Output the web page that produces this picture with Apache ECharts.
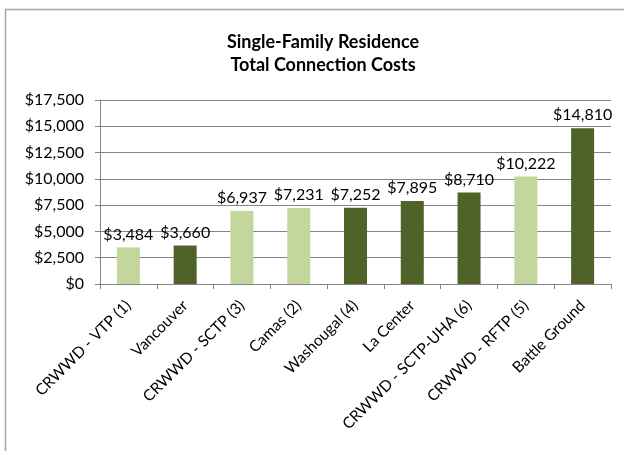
<!DOCTYPE html>
<html>
<head>
<meta charset="utf-8">
<script src="https://cdn.jsdelivr.net/npm/echarts@6/dist/echarts.min.js"></script>
<style>
  html, body { margin: 0; padding: 0; background: #fff; }
  #chart { width: 624px; height: 451px; }
</style>
</head>
<body>
<div id="chart"></div>
<script>
// categories and values
var categories = ['CRWWD - VTP (1)', 'Vancouver', 'CRWWD - SCTP (3)', 'Camas (2)', 'Washougal (4)',
                  'La Center', 'CRWWD - SCTP-UHA (6)', 'CRWWD - RFTP (5)', 'Battle Ground'];
var costs = [3484, 3660, 6937, 7231, 7252, 7895, 8710, 10222, 14810];
var shade = ['light', 'dark', 'light', 'light', 'dark', 'dark', 'dark', 'light', 'dark'];

var colors = { light: '#c3d69b', dark: '#4f6228' };
var font = 'Lato, "Open Sans", sans-serif';

function money(v) {
    return '$' + v.toLocaleString('en-US');
}

var myChart = echarts.init(document.getElementById('chart'));

var option = {
    backgroundColor: '#fff',
    animation: false,
    title: {
        text: 'Single-Family Residence\nTotal Connection Costs',
        left: 318,
        textAlign: 'center',
        top: 26,
        textStyle: { fontFamily: font, fontSize: 18, fontWeight: 'bold', color: '#000', lineHeight: 23 }
    },
    // chart frame: only top and left edges show in the picture
    graphic: [
        { type: 'line', shape: { x1: 5, y1: 9.5, x2: 624, y2: 9.5 }, style: { stroke: '#a6a6a6', lineWidth: 1.5 } },
        { type: 'line', shape: { x1: 5.5, y1: 9, x2: 5.5, y2: 451 }, style: { stroke: '#a6a6a6', lineWidth: 1.5 } }
    ],
    grid: { left: 100, right: 13, top: 100, bottom: 167, containLabel: false },
    xAxis: {
        type: 'category',
        data: categories,
        axisLine: { lineStyle: { color: '#868686' } },
        axisTick: { show: true, alignWithLabel: false, length: 5, lineStyle: { color: '#868686' } },
        axisLabel: {
            rotate: 45, interval: 0, margin: 19,
            fontFamily: font, fontSize: 15.5, color: '#000'
        }
    },
    yAxis: {
        type: 'value',
        min: 0, max: 17500, interval: 2500,
        axisLine: { show: true, lineStyle: { color: '#868686' } },
        axisTick: { show: true, length: 5, lineStyle: { color: '#868686' } },
        splitLine: { lineStyle: { color: '#868686' } },
        axisLabel: { formatter: money, margin: 16, fontFamily: font, fontSize: 16, color: '#000' }
    },
    series: [{
        type: 'bar',
        barWidth: 23,
        data: costs.map(function (v, i) {
            return { value: v, itemStyle: { color: colors[shade[i]] } };
        }),
        label: {
            show: true, position: 'top', distance: 5,
            formatter: function (p) { return money(p.value); },
            fontFamily: font, fontSize: 16, color: '#000'
        }
    }]
};

myChart.setOption(option);
</script>
</body>
</html>
